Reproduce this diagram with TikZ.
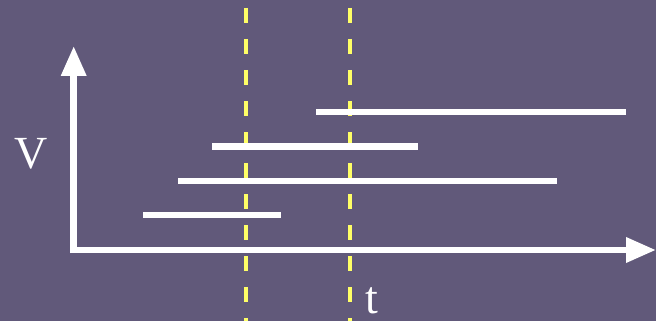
\documentclass[tikz,border=0pt]{standalone}
\usepackage{fontspec}
\setmainfont{Liberation Serif}
\usetikzlibrary{arrows.meta}
\definecolor{bgc}{RGB}{97,89,122}
\definecolor{dashy}{RGB}{255,255,102}
\begin{document}
\begin{tikzpicture}[x=1pt,y=-1pt,
  axis/.style={white,line width=6.5pt,-{Triangle[length=30pt,width=24pt]}},
  interval/.style={white,line width=6.5pt},
  cut/.style={dashy,line width=3.5pt,dash pattern=on 15pt off 16pt},
  lbl/.style={text=white,font=\fontsize{46}{50}\selectfont,inner sep=0pt,anchor=base}]
\fill[bgc] (0,0) rectangle (656,321);
\useasboundingbox (0,0) rectangle (656,321);
% dashed cut lines
\coordinate (c1top) at (246,8);
\coordinate (c1bot) at (246,321);
\coordinate (c2top) at (350,8);
\coordinate (c2bot) at (350,321);
\draw[cut] (c1top) -- (c1bot);
\draw[cut] (c2top) -- (c2bot);
% intervals
\coordinate (a1) at (316,112); \coordinate (b1) at (626,112);
\coordinate (a2) at (212,146.5); \coordinate (b2) at (418,146.5);
\coordinate (a3) at (178,181); \coordinate (b3) at (557,181);
\coordinate (a4) at (143,215); \coordinate (b4) at (281,215);
\draw[interval] (a1) -- (b1);
\draw[interval] (a2) -- (b2);
\draw[interval] (a3) -- (b3);
\draw[interval] (a4) -- (b4);
% axes
\coordinate (origin) at (73.7,253.2);
\coordinate (ytip) at (73.7,46);
\coordinate (xorig) at (70.5,250);
\coordinate (xtip) at (656,250);
\draw[axis] (origin) -- (ytip);
\draw[axis] (xorig) -- (xtip);
% labels
\node[lbl] (vlab) at (31,168) {V};
\node[lbl] (tlab) at (372,313) {t};
\end{tikzpicture}
\end{document}
